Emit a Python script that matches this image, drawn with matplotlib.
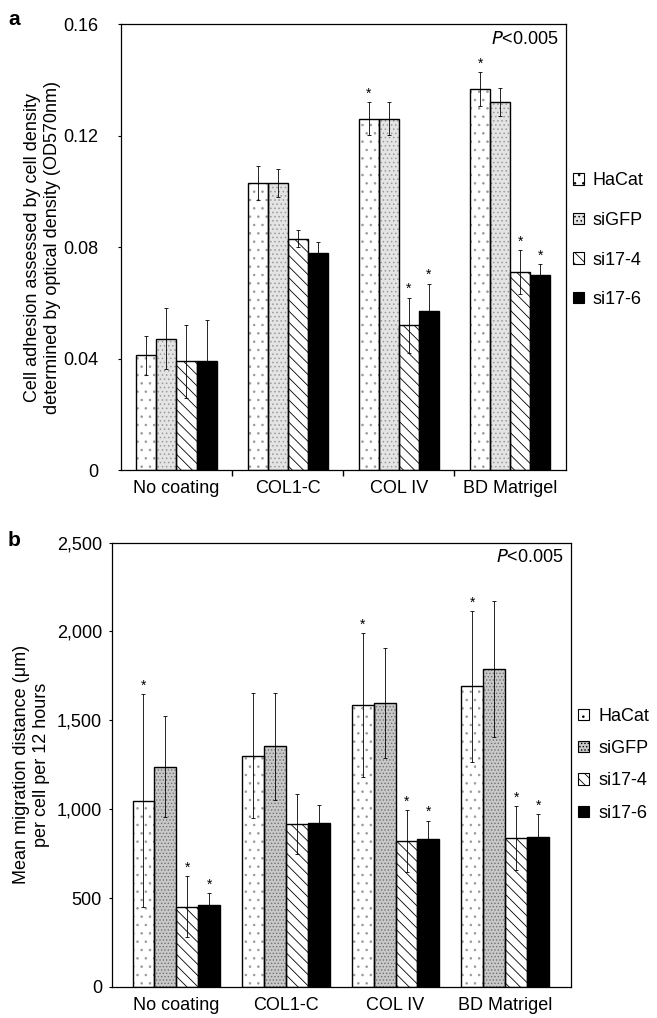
import matplotlib
matplotlib.use('Agg')

import numpy as np
import matplotlib.pyplot as plt
from matplotlib.patches import Patch
from matplotlib.ticker import FixedLocator

plt.rcParams['font.family'] = ['Liberation Sans', 'DejaVu Sans']
plt.rcParams['font.size'] = 13
plt.rcParams['hatch.linewidth'] = 0.6

# Data
categories = ['No coating', 'COL1-C', 'COL IV', 'BD Matrigel']
series = ['HaCat', 'siGFP', 'si17-4', 'si17-6']

# panel a: adhesion (OD570nm)
adh_mean = {
    'HaCat':  [0.0413, 0.1031, 0.1262, 0.1369],
    'siGFP':  [0.0472, 0.1031, 0.1262, 0.1321],
    'si17-4': [0.0391, 0.0831, 0.0520, 0.0711],
    'si17-6': [0.0391, 0.0780, 0.0570, 0.0700],
}
adh_err = {
    'HaCat':  [0.007, 0.006, 0.006, 0.006],
    'siGFP':  [0.011, 0.005, 0.006, 0.005],
    'si17-4': [0.013, 0.003, 0.010, 0.008],
    'si17-6': [0.015, 0.004, 0.010, 0.004],
}
adh_star = {
    'HaCat':  [False, False, True, True],
    'siGFP':  [False, False, False, False],
    'si17-4': [False, False, True, True],
    'si17-6': [False, False, True, True],
}

# panel b: migration distance (um per cell per 12 h)
mig_mean = {
    'HaCat':  [1047, 1301, 1588, 1691],
    'siGFP':  [1240, 1353, 1598, 1789],
    'si17-4': [452, 918, 822, 837],
    'si17-6': [462, 925, 831, 846],
}
mig_err = {
    'HaCat':  [600, 350, 405, 425],
    'siGFP':  [285, 300, 310, 385],
    'si17-4': [170, 170, 175, 180],
    'si17-6': [65, 100, 105, 125],
}
mig_star = {
    'HaCat':  [True, False, True, True],
    'siGFP':  [False, False, False, False],
    'si17-4': [True, False, True, True],
    'si17-6': [True, False, True, True],
}

adh_ticks = [0, 0.04, 0.08, 0.12, 0.16]
adh_ticklabels = ['0', '0.04', '0.08', '0.12', '0.16']
mig_ticks = [0, 500, 1000, 1500, 2000, 2500]
mig_ticklabels = ['0', '500', '1,000', '1,500', '2,000', '2,500']

# fill style per series: (facecolor, hatch, hatch colour)
styles_a = {
    'HaCat':  ('white', '..', '#9a9a9a'),
    'siGFP':  ('#e4e4e4', '....', '#9a9a9a'),
    'si17-4': ('white', '\\\\\\', 'black'),
    'si17-6': ('black', None, 'black'),
}
styles_b = {
    'HaCat':  ('white', '..', '#9a9a9a'),
    'siGFP':  ('#c8c8c8', '.....', '#707070'),
    'si17-4': ('white', '\\\\\\', 'black'),
    'si17-6': ('black', None, 'black'),
}


def draw_panel(ax, means, errs, stars, styles, width, star_off):
    x = np.arange(len(categories))
    for i, s in enumerate(series):
        pos = x + (i - 1.5) * width
        fc, hatch, hc = styles[s]
        # hatch layer, then outline layer
        ax.bar(pos, means[s], width, color=fc, hatch=hatch, edgecolor=hc,
               linewidth=0, zorder=2)
        ax.bar(pos, means[s], width, fill=False, edgecolor='black',
               linewidth=1.0, zorder=3)
        ax.errorbar(pos, means[s], yerr=errs[s], fmt='none', ecolor='black',
                    elinewidth=0.6, capsize=1.5, capthick=0.6, zorder=4)
        for p, m, e, st in zip(pos, means[s], errs[s], stars[s]):
            if st:
                ax.text(p, m + e + star_off, '*', ha='center', va='bottom',
                        fontsize=10, zorder=5)
    ax.set_xticks(x)
    ax.set_xticklabels(categories, fontsize=13)
    ax.tick_params(axis='x', which='major', length=0, pad=7)
    for sp in ax.spines.values():
        sp.set_linewidth(0.9)


def add_legend(ax, styles, y, spacing):
    handles = []
    for s in series:
        fc, hatch, hc = styles[s]
        handles.append(Patch(facecolor=fc, hatch=hatch, edgecolor='black',
                             linewidth=0.8, label=s))
    ax.legend(handles=handles, loc='center left', bbox_to_anchor=(1.0, y),
              frameon=False, handlelength=0.6, handleheight=0.6,
              handletextpad=0.5, labelspacing=spacing, fontsize=13,
              borderaxespad=0.2, borderpad=0.2)


fig = plt.figure(figsize=(6.57, 10.18), dpi=100)

# panel a
ax1 = fig.add_axes([0.184, 0.538, 0.677, 0.438])
draw_panel(ax1, adh_mean, adh_err, adh_star, styles_a, 0.18, 0.0005)
ax1.set_xlim(-0.5, 3.5)
ax1.set_ylim(0, 0.16)
ax1.set_yticks(adh_ticks)
ax1.set_yticklabels(adh_ticklabels)
ax1.tick_params(axis='y', length=2, pad=14)
ax1.xaxis.set_minor_locator(FixedLocator([0.5, 1.5, 2.5]))
ax1.tick_params(axis='x', which='minor', length=4, width=1)
ax1.set_ylabel('Cell adhesion assessed by cell density\n'
               'determined by optical density (OD570nm)', labelpad=2)
ax1.text(0.985, 0.985, r'$P$<0.005', transform=ax1.transAxes,
         ha='right', va='top', fontsize=13)
add_legend(ax1, styles_a, 0.516, 1.25)
fig.text(0.012, 0.99, 'a', fontsize=15, fontweight='bold', va='top')

# panel b
ax2 = fig.add_axes([0.170, 0.0305, 0.699, 0.4365])
draw_panel(ax2, mig_mean, mig_err, mig_star, styles_b, 0.2, 8)
ax2.set_xlim(-0.59, 3.6)
ax2.set_ylim(0, 2500)
ax2.set_yticks(mig_ticks)
ax2.set_yticklabels(mig_ticklabels)
ax2.tick_params(axis='y', length=2, pad=5)
ax2.set_ylabel('Mean migration distance (\u03bcm)\nper cell per 12 hours',
               labelpad=5)
ax2.text(0.985, 0.985, r'$P$<0.005', transform=ax2.transAxes,
         ha='right', va='top', fontsize=13)
add_legend(ax2, styles_b, 0.5, 0.85)
fig.text(0.012, 0.478, 'b', fontsize=15, fontweight='bold', va='top')

fig.savefig('out.png', dpi=100)
